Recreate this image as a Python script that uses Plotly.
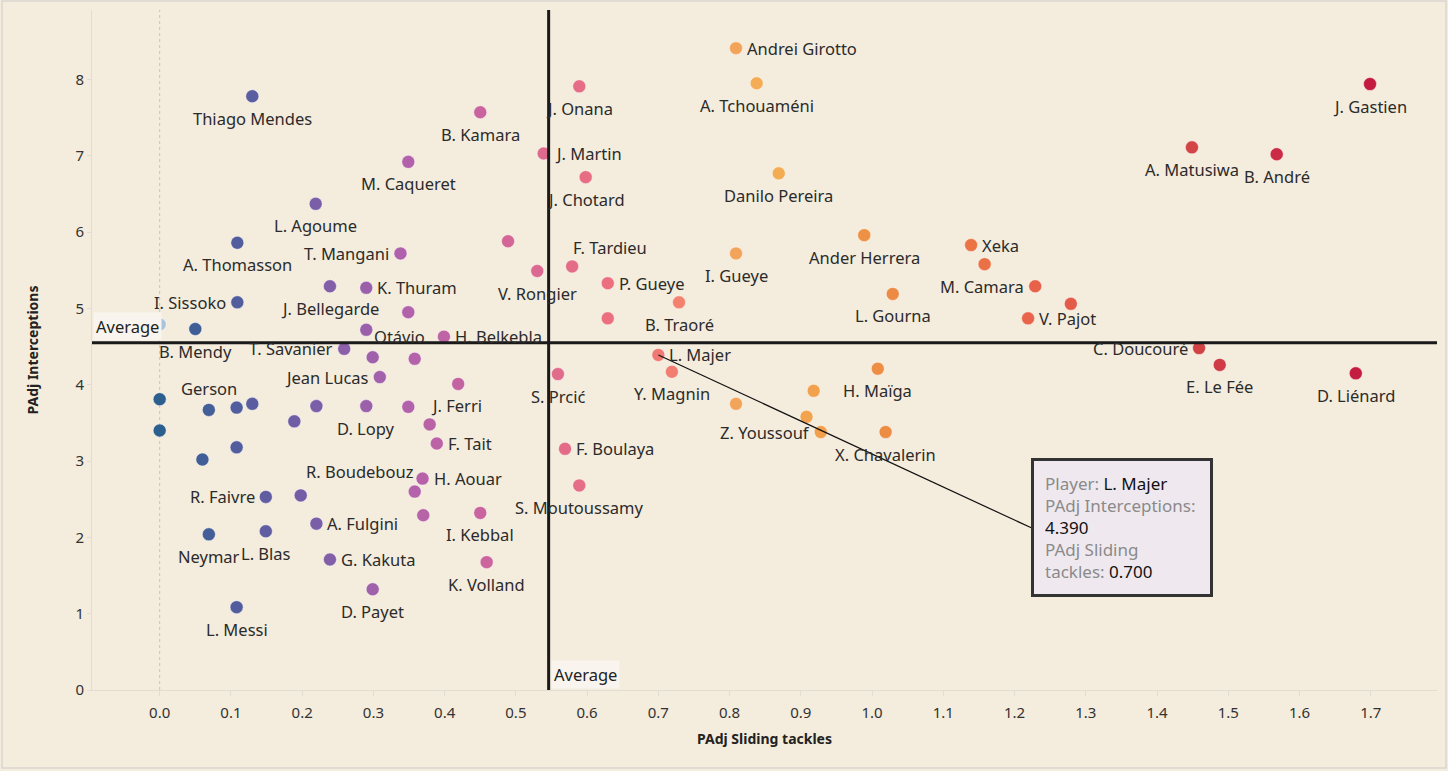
import plotly.graph_objects as go
from plotly.colors import sample_colorscale

# ---------------- data ----------------
players = [
    "Thiago Mendes", "B. Kamara", "J. Onana", "Andrei Girotto", "A. Tchouaméni",
    "J. Martin", "M. Caqueret", "J. Chotard", "Danilo Pereira", "L. Agoume",
    "A. Thomasson", "T. Mangani", "", "V. Rongier", "F. Tardieu",
    "I. Gueye", "Ander Herrera", "Xeka", "", "M. Camara",
    "", "V. Pajot", "L. Gourna", "P. Gueye", "B. Traoré",
    "", "J. Bellegarde", "K. Thuram", "I. Sissoko", "",
    "Otávio", "H. Belkebla", "B. Mendy", "T. Savanier", "",
    "", "Jean Lucas", "", "Gerson", "",
    "", "", "", "", "",
    "", "", "D. Lopy", "", "J. Ferri",
    "F. Tait", "R. Boudebouz", "H. Aouar", "", "I. Kebbal",
    "K. Volland", "R. Faivre", "", "Neymar", "L. Blas",
    "L. Messi", "A. Fulgini", "G. Kakuta", "D. Payet", "S. Prcić",
    "F. Boulaya", "S. Moutoussamy", "L. Majer", "Y. Magnin", "",
    "", "", "Z. Youssouf", "X. Chavalerin", "H. Maïga",
    "J. Gastien", "A. Matusiwa", "B. André", "C. Doucouré", "E. Le Fée",
    "D. Liénard",
]
sliding_tackles = [
    0.130, 0.450, 0.589, 0.809, 0.838,
    0.539, 0.349, 0.598, 0.869, 0.219,
    0.109, 0.338, 0.489, 0.530, 0.579,
    0.809, 0.989, 1.139, 1.158, 1.229,
    1.279, 1.219, 1.029, 0.629, 0.729,
    0.629, 0.239, 0.290, 0.109, 0.349,
    0.290, 0.399, 0.050, 0.259, 0.299,
    0.358, 0.309, 0.419, 0.069, 0.000,
    0.000, 0.108, 0.130, 0.108, 0.060,
    0.189, 0.220, 0.290, 0.349, 0.379,
    0.389, 0.358, 0.369, 0.370, 0.450,
    0.459, 0.149, 0.198, 0.069, 0.149,
    0.108, 0.220, 0.239, 0.299, 0.559,
    0.569, 0.589, 0.700, 0.719, 0.809,
    0.918, 0.908, 0.928, 1.019, 1.008,
    1.699, 1.449, 1.568, 1.459, 1.488,
    1.679,
]
interceptions = [
    7.78, 7.57, 7.91, 8.41, 7.95,
    7.03, 6.92, 6.72, 6.77, 6.37,
    5.86, 5.72, 5.88, 5.49, 5.55,
    5.72, 5.96, 5.83, 5.58, 5.29,
    5.06, 4.87, 5.19, 5.33, 5.08,
    4.87, 5.29, 5.27, 5.08, 4.95,
    4.72, 4.63, 4.73, 4.47, 4.36,
    4.34, 4.10, 4.01, 3.67, 3.81,
    3.40, 3.70, 3.75, 3.18, 3.02,
    3.52, 3.72, 3.72, 3.71, 3.48,
    3.23, 2.60, 2.77, 2.29, 2.32,
    1.675, 2.53, 2.55, 2.04, 2.08,
    1.085, 2.18, 1.71, 1.32, 4.14,
    3.16, 2.68, 4.39, 4.17, 3.75,
    3.92, 3.58, 3.38, 3.38, 4.21,
    7.94, 7.11, 7.02, 4.48, 4.26,
    4.15,
]
# faded (highlighted) point drawn in light blue
faded_tackles = [0.0]
faded_interceptions = [4.79]

avg_tackles = 0.546
avg_interceptions = 4.55

x_ticks = [round(i * 0.1, 1) for i in range(18)]
y_ticks = list(range(9))

# ---------------- styles ----------------
# label placement code per player: b=below, t=above, r=right, l=left, br/tr/tl corners
label_pos = [
    "b", "b", "b", "r", "b",
    "r", "b", "b", "b", "b",
    "b", "l", "b", "b", "tr",
    "b", "b", "r", "b", "l",
    "b", "r", "b", "r", "b",
    "b", "b", "r", "l", "b",
    "br", "r", "b", "l", "b",
    "b", "l", "b", "t", "b",
    "b", "b", "b", "b", "b",
    "b", "b", "b", "b", "tr",
    "r", "tl", "r", "b", "b",
    "b", "l", "b", "b", "b",
    "b", "r", "r", "b", "b",
    "r", "b", "r", "b", "b",
    "b", "b", "l", "b", "b",
    "b", "b", "b", "l", "b",
    "b",
]
placement = {
    "b": ("center", 0, -22),
    "t": ("center", 0, 21),
    "r": ("left", 9, 0),
    "l": ("right", -9, 0),
    "br": ("left", 6, -7),
    "tr": ("left", -1, 19),
    "tl": ("right", 1, 20),
}

scale = [
    [0.00, "#2c5f8e"], [0.07, "#565d9e"], [0.13, "#7b5ea8"], [0.20, "#b062ab"],
    [0.27, "#cc649d"], [0.32, "#df6a8c"], [0.37, "#ec6f80"], [0.42, "#f27b72"],
    [0.47, "#f3a15c"], [0.50, "#f5b055"], [0.58, "#ee9244"], [0.67, "#eb7444"],
    [0.72, "#e8634a"], [0.85, "#d24545"], [0.92, "#cc2b45"], [1.00, "#c41a3e"],
]
colors = sample_colorscale(scale, [min(max(v / 1.7, 0), 1) for v in sliding_tackles])

BG = "#f4ecdc"
FONT = "Noto Sans"
LABEL_SIZE = 16.5

fig = go.Figure()

fig.add_trace(go.Scatter(
    x=faded_tackles, y=faded_interceptions, mode="markers",
    marker=dict(size=13, color="#a9c3dc", line=dict(width=1, color="rgba(255,255,255,0.5)")),
    hoverinfo="skip", showlegend=False,
))

fig.add_trace(go.Scatter(
    x=sliding_tackles, y=interceptions, mode="markers",
    customdata=players,
    marker=dict(size=13, color=colors, line=dict(width=1, color="rgba(255,255,255,0.45)")),
    hovertemplate="Player: %{customdata}<br>PAdj Interceptions: %{y:.3f}<br>PAdj Sliding tackles: %{x:.3f}<extra></extra>",
    showlegend=False, cliponaxis=False,
))

for name, xv, yv, code in zip(players, sliding_tackles, interceptions, label_pos):
    if not name:
        continue
    anchor, dx, dy = placement[code]
    fig.add_annotation(x=xv, y=yv, xref="x", yref="y", text=name, showarrow=False,
                       xanchor=anchor, yanchor="middle", xshift=dx, yshift=dy,
                       font=dict(family=FONT, size=LABEL_SIZE, color="#2b2b2b"))

fig.update_layout(
    width=1448, height=771,
    margin=dict(l=92, r=11, t=10, b=81),
    paper_bgcolor=BG, plot_bgcolor=BG,
    font=dict(family=FONT, color="#333333", size=14),
    xaxis=dict(
        range=[-0.095, 1.793], tickvals=x_ticks, tickformat=".1f",
        showgrid=False, zeroline=False, showline=True, linecolor="#e2ddd2", linewidth=1,
        ticks="outside", ticklen=5, tickcolor="#e2ddd2", ticklabelstandoff=4,
        tickfont=dict(size=15, color="#333333"),
        title=dict(text="<b>PAdj Sliding tackles</b>", font=dict(size=14, color="#222222"), standoff=13),
    ),
    yaxis=dict(
        range=[0, 8.91], tickvals=y_ticks,
        showgrid=False, zeroline=False, showline=True, linecolor="#e2ddd2", linewidth=1,
        ticks="outside", ticklen=4, tickcolor="#e2ddd2",
        tickfont=dict(size=15, color="#333333"),
        title=dict(text="<b>PAdj Interceptions</b>", font=dict(size=14, color="#222222"), standoff=33),
    ),
    hovermode="closest",
)

# dotted zero line at x = 0
fig.add_shape(type="line", xref="x", yref="paper", x0=0, x1=0, y0=0, y1=1,
              line=dict(color="#c8c4bc", width=1, dash="dot"), layer="below")

# average reference lines
fig.add_shape(type="line", xref="x", yref="paper", x0=avg_tackles, x1=avg_tackles, y0=0, y1=1,
              line=dict(color="#1a1a1a", width=3), layer="above")
fig.add_shape(type="line", xref="paper", yref="y", x0=0, x1=1, y0=avg_interceptions, y1=avg_interceptions,
              line=dict(color="#1a1a1a", width=3), layer="above")

fig.add_annotation(x=-0.094, y=avg_interceptions, xref="x", yref="y", xanchor="left", yanchor="bottom",
                   text="Average", showarrow=False, bgcolor="#f9f5ee", borderpad=2, yshift=2,
                   font=dict(size=LABEL_SIZE, color="#222222"))
fig.add_annotation(x=avg_tackles, y=0, xref="x", yref="y", xanchor="left", yanchor="bottom",
                   text="Average", showarrow=False, bgcolor="#f9f5ee", borderpad=2, xshift=2, yshift=1,
                   font=dict(size=LABEL_SIZE, color="#222222"))

# tooltip for L. Majer
ti = players.index("L. Majer")
tx, ty = sliding_tackles[ti], interceptions[ti]
box_x, box_y = 1.2235, 2.125
fig.add_shape(type="line", xref="x", yref="y", x0=tx, y0=ty, x1=box_x, y1=box_y,
              line=dict(color="#111111", width=1.2), layer="above")
fig.add_annotation(
    x=box_x, y=box_y, xref="x", yref="y", xanchor="left", yanchor="middle", showarrow=False,
    align="left", width=154, borderpad=11, bgcolor="#efe9ef", bordercolor="#333333", borderwidth=3,
    font=dict(size=17, color="#111111"),
    text=("<span style='color:#8a8a8a'>Player:</span> " + players[ti] +
          "<br><span style='color:#8a8a8a'>PAdj Interceptions:</span>"
          "<br>" + f"{ty:.3f}" +
          "<br><span style='color:#8a8a8a'>PAdj Sliding</span>"
          "<br><span style='color:#8a8a8a'>tackles:</span> " + f"{tx:.3f}"),
)

# outer border
fig.add_shape(type="rect", xref="paper", yref="paper",
              x0=(2 - 92) / 1345, x1=(1446 - 92) / 1345, y0=(690 - 768) / 680, y1=(690 - 1) / 680,
              line=dict(color="#d9d6d0", width=1.5), fillcolor="rgba(0,0,0,0)", layer="below")

fig.write_html("out.html", config={"displayModeBar": False},
               post_script="document.body.style.margin='0';document.body.style.background='#f0f0f0';")
